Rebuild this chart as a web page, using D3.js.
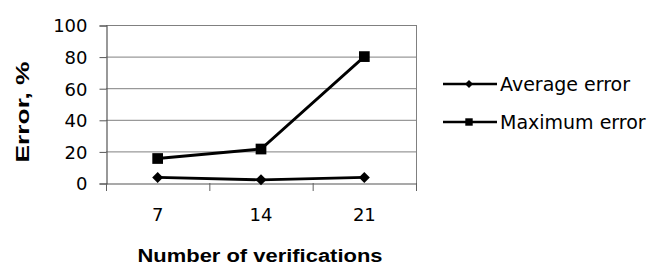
<!DOCTYPE html>
<html>
<head>
<meta charset="utf-8">
<script src="https://cdn.jsdelivr.net/npm/d3@7"></script>
<style>
  body { margin: 0; background: #fff; }
  text { font-family: "DejaVu Sans", Arial, sans-serif; }
</style>
</head>
<body>
<div id="chart"></div>
<script>

  var categories = ["7", "14", "21"];
  var averageError = [3.5, 2, 3.5];
  var maximumError = [15.5, 21.5, 80];
  var yTicks = [0, 20, 40, 60, 80, 100];
  var seriesNames = ["Average error", "Maximum error"];

  var width = 654, height = 267;
  var plotLeft = 106, plotRight = 416, plotTop = 25, plotBottom = 183;

  var svg = d3.select("#chart").append("svg")
    .attr("width", width)
    .attr("height", height);

  var xScale = d3.scaleBand()
    .domain(categories)
    .range([plotLeft, plotRight]);

  var yScale = d3.scaleLinear()
    .domain([0, 100])
    .range([plotBottom, plotTop]);

  // gridlines
  svg.append("g")
    .selectAll("line")
    .data(yTicks.filter(function(d) { return d > 0; }))
    .enter().append("line")
    .attr("x1", plotLeft).attr("x2", plotRight)
    .attr("y1", function(d) { return yScale(d) + 0.5; })
    .attr("y2", function(d) { return yScale(d) + 0.5; })
    .attr("stroke", "#808080")
    .attr("stroke-width", 1);

  // right frame line
  svg.append("line")
    .attr("x1", plotRight + 0.5).attr("x2", plotRight + 0.5)
    .attr("y1", plotTop).attr("y2", plotBottom + 8)
    .attr("stroke", "#808080");

  var yaxis = svg.append("g")
    .attr("transform", "translate(" + (plotLeft + 0.5) + ",0.5)")
    .call(d3.axisLeft(yScale).tickValues(yTicks).tickSize(7).tickPadding(12));

  var xaxis = svg.append("g")
    .attr("transform", "translate(0," + (plotBottom + 0.5) + ")")
    .call(d3.axisBottom(xScale).tickSize(0).tickPadding(25));

  // x tick marks between categories
  svg.append("g")
    .selectAll("line")
    .data(categories.concat(["end"]))
    .enter().append("line")
    .attr("x1", function(d, i) { return i < categories.length ? xScale(d) + 0.5 : plotRight + 0.5; })
    .attr("x2", function(d, i) { return i < categories.length ? xScale(d) + 0.5 : plotRight + 0.5; })
    .attr("y1", plotBottom).attr("y2", plotBottom + 8)
    .attr("stroke", "#606060");

  [yaxis, xaxis].forEach(function(a) {
    a.select(".domain").attr("stroke", "#555").attr("stroke-width", 1.2);
    a.selectAll(".tick line").attr("stroke", "#555");
    a.selectAll("text").attr("font-size", 18).attr("fill", "#000")
      .style("font-family", "'DejaVu Sans', Arial, sans-serif");
  });
  yaxis.selectAll(".tick text").attr("dy", "0.36em");

  var line = d3.line()
    .x(function(d, i) { return xScale(categories[i]) + xScale.bandwidth() / 2; })
    .y(function(d) { return yScale(d); });

  var series = [averageError, maximumError];
  var sizes = [60, 115];
  var rotations = [45, 0];

  series.forEach(function(s, k) {
    svg.append("path")
      .datum(s)
      .attr("d", line)
      .attr("fill", "none")
      .attr("stroke", "#000")
      .attr("stroke-width", 2.8);

    svg.selectAll(".m" + k)
      .data(s)
      .enter().append("path")
      .attr("class", "m" + k)
      .attr("transform", function(d, i) {
        return "translate(" + (xScale(categories[i]) + xScale.bandwidth() / 2) + "," + yScale(d) + ") rotate(" + rotations[k] + ")";
      })
      .attr("d", d3.symbol().type(d3.symbolSquare).size(sizes[k]))
      .attr("fill", "#000");
  });

  // legend
  var legend = svg.append("g");
  seriesNames.forEach(function(name, k) {
    var ly = 84 + k * 38;
    legend.append("line")
      .attr("x1", 443).attr("x2", 497)
      .attr("y1", ly).attr("y2", ly)
      .attr("stroke", "#000").attr("stroke-width", 2.4);
    legend.append("path")
      .attr("transform", "translate(469," + ly + ") rotate(" + rotations[k] + ")")
      .attr("d", d3.symbol().type(d3.symbolSquare).size(k === 0 ? 32 : 55))
      .attr("fill", "#000");
    legend.append("text")
      .attr("x", 500).attr("y", ly)
      .attr("dy", "0.36em")
      .attr("font-size", 19)
      .text(name);
  });

  // axis titles
  svg.append("text")
    .attr("x", 260).attr("y", 262)
    .attr("text-anchor", "middle")
    .attr("font-size", 18)
    .attr("font-weight", "bold")
    .style("font-family", "'Liberation Sans', Arial, sans-serif")
    .attr("textLength", 245)
    .attr("lengthAdjust", "spacingAndGlyphs")
    .text("Number of verifications");

  svg.append("text")
    .attr("transform", "translate(29,112) rotate(-90)")
    .attr("text-anchor", "middle")
    .attr("font-size", 18)
    .attr("font-weight", "bold")
    .style("font-family", "'Liberation Sans', Arial, sans-serif")
    .attr("textLength", 101)
    .attr("lengthAdjust", "spacingAndGlyphs")
    .text("Error, %");

</script>
</body>
</html>
